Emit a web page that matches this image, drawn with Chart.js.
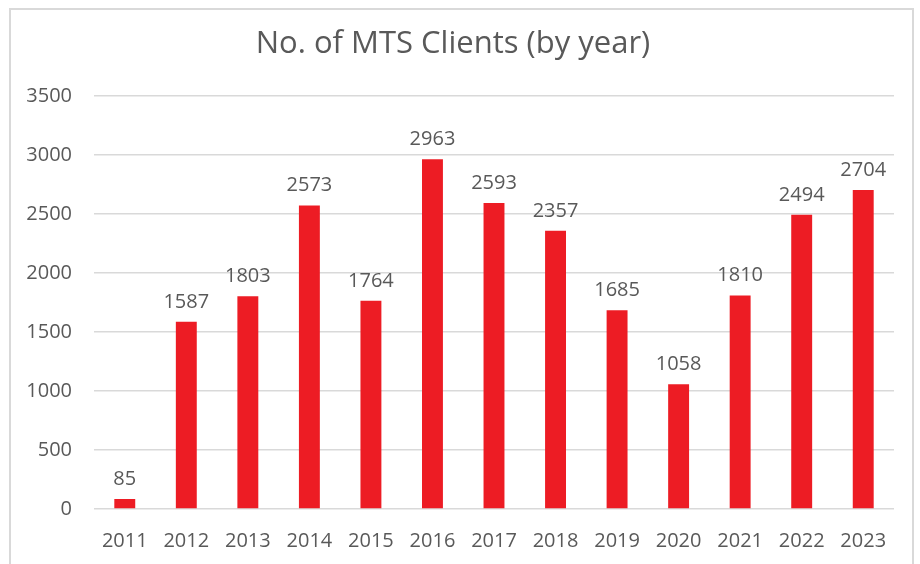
<!DOCTYPE html>
<html>
<head>
<meta charset="utf-8">
<script src="https://cdn.jsdelivr.net/npm/chart.js@4/dist/chart.umd.min.js"></script>
<style>
  html, body { margin: 0; padding: 0; background: #fff; }
  #wrap { position: relative; width: 920px; height: 564px; overflow: hidden; }
  #frame { position: absolute; left: 9px; top: 8px; width: 901px; height: 600px; border: 2px solid #d9d9d9; }
  #MTS_Chart { position: absolute; left: 0; top: 0; }
</style>
</head>
<body>
<div id="wrap">
  <div id="frame"></div>
  <canvas id="MTS_Chart" width="920" height="564"></canvas>
</div>
<script>
// ข้อมูลกราฟ
const years = ['2011', '2012', '2013', '2014', '2015', '2016', '2017', '2018', '2019', '2020', '2021', '2022', '2023'];
const clients = [85, 1587, 1803, 2573, 1764, 2963, 2593, 2357, 1685, 1058, 1810, 2494, 2704];
const yTicks = [0, 500, 1000, 1500, 2000, 2500, 3000, 3500];

const textColor = '#595959';
const fontFamily = '"Open Sans", "Liberation Sans", sans-serif';

// เขียนตัวเลขบนแท่ง
const valueLabels = {
    id: 'valueLabels',
    afterDatasetsDraw(chart) {
        const ctx = chart.ctx;
        const meta = chart.getDatasetMeta(0);
        ctx.save();
        ctx.font = '20px ' + fontFamily;
        ctx.fillStyle = textColor;
        ctx.textAlign = 'center';
        ctx.textBaseline = 'alphabetic';
        meta.data.forEach((bar, i) => {
            ctx.fillText(String(clients[i]), bar.x, bar.y - 14);
        });
        ctx.restore();
    }
};

const ctx = document.getElementById('MTS_Chart').getContext('2d');
const MTSChartInstance = new Chart(ctx, {
    type: 'bar',
    data: {
        labels: years,
        datasets: [{
            label: 'No. of MTS Clients',
            data: clients,
            backgroundColor: '#ed1c24',
            borderWidth: 0,
            barPercentage: 0.68,
            categoryPercentage: 0.5
        }]
    },
    options: {
        responsive: false,
        animation: false,
        layout: {
            padding: { left: 12, right: 26, top: 0, bottom: 11 }
        },
        plugins: {
            legend: { display: false },
            tooltip: { enabled: false },
            title: {
                display: true,
                text: 'No. of MTS Clients (by year)',
                color: textColor,
                font: { family: fontFamily, size: 31, weight: 'normal', lineHeight: 1.2 },
                padding: { top: 26, bottom: 32.8 }
            }
        },
        scales: {
            x: {
                afterFit(scale) { scale.height = 44; },
                grid: { display: false, drawTicks: false },
                border: { display: false },
                ticks: {
                    color: textColor,
                    font: { family: fontFamily, size: 20 },
                    padding: 20,
                    maxRotation: 0
                }
            },
            y: {
                min: 0,
                max: 3500,
                afterFit(scale) { scale.width = 82; },
                afterBuildTicks(scale) { scale.ticks = yTicks.map(v => ({ value: v })); },
                grid: { color: '#d9d9d9', lineWidth: 1.5, drawTicks: false },
                border: { display: false },
                ticks: {
                    color: textColor,
                    font: { family: fontFamily, size: 20 },
                    padding: 22,
                    callback: (value) => String(value)
                }
            }
        }
    },
    plugins: [valueLabels]
});
</script>
</body>
</html>
